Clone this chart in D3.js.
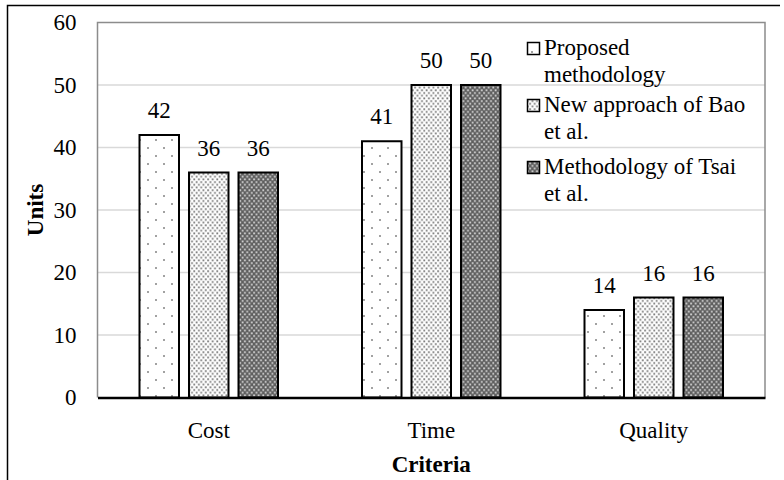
<!DOCTYPE html>
<html><head><meta charset="utf-8">
<script src="https://cdn.jsdelivr.net/npm/d3@7"></script>
<style>
html,body{margin:0;padding:0;background:#fff;}
</style></head>
<body><svg id="c" width="784" height="480"></svg>
<script>
const categories = ["Cost", "Time", "Quality"];
const seriesNames = ["Proposed methodology", "New approach of Bao et al.", "Methodology of Tsai et al."];
const proposed = [42, 41, 14];
const bao = [36, 50, 16];
const tsai = [36, 50, 16];
const yTicks = [0, 10, 20, 30, 40, 50, 60];
const legendLines = [["Proposed", "methodology"], ["New approach of Bao", "et al."], ["Methodology of Tsai", "et al."]];

const series = [proposed, bao, tsai];

// pick an installed serif font
function pickFont(){
  const cands = ["Liberation Serif","Times New Roman","Tinos","Times","DejaVu Serif","Noto Serif","FreeSerif","Nimbus Roman","Nimbus Roman No9 L","Linux Libertine O","Source Serif Pro"];
  const ctx = document.createElement("canvas").getContext("2d");
  const s = "mmmmmmmmmwwwwwlliiQuality 0123456789";
  const base = {};
  ["monospace","sans-serif"].forEach(b=>{ctx.font = "40px " + b; base[b]=ctx.measureText(s).width;});
  for (const c of cands){
    let ok = false;
    ["monospace","sans-serif"].forEach(b=>{ctx.font = `40px "${c}", ${b}`; if (Math.abs(ctx.measureText(s).width-base[b])>0.5) ok = true;});
    if (ok) return `"${c}", serif`;
  }
  return "serif";
}
const FONT = pickFont();
const FS = 23;
const svg = d3.select("#c");
const m = {left: 97.5, right: 765, top: 22.5, bottom: 397.5};

// patterns
const defs = svg.append("defs");
const p1 = defs.append("pattern").attr("id","p1").attr("patternUnits","userSpaceOnUse").attr("width",16).attr("height",16);
p1.append("rect").attr("width",16).attr("height",16).attr("fill","#fff");
[[4,4],[12,12]].forEach(([x,y])=>p1.append("rect").attr("x",x-0.8).attr("y",y-0.8).attr("width",1.6).attr("height",1.6).attr("fill","#6f6f6f"));
const p2 = defs.append("pattern").attr("id","p2").attr("patternUnits","userSpaceOnUse").attr("width",4.6).attr("height",5.4);
p2.append("rect").attr("width",4.6).attr("height",5.4).attr("fill","#fff");
p2.append("rect").attr("x",0.2).attr("y",0.3).attr("width",1.8).attr("height",1.8).attr("fill","#7a7a7a");
p2.append("rect").attr("x",2.5).attr("y",3).attr("width",1.8).attr("height",1.8).attr("fill","#7a7a7a");
const p3 = defs.append("pattern").attr("id","p3").attr("patternUnits","userSpaceOnUse").attr("width",4.6).attr("height",5.4);
p3.append("rect").attr("width",4.6).attr("height",5.4).attr("fill","#5e5e5e");
p3.append("rect").attr("x",0.2).attr("y",0.3).attr("width",1.8).attr("height",1.8).attr("fill","#d8d8d8");
p3.append("rect").attr("x",2.5).attr("y",3).attr("width",1.8).attr("height",1.8).attr("fill","#d8d8d8");
const fills = ["url(#p1)","url(#p2)","url(#p3)"];

// outer border
svg.append("path").attr("d",`M7.5,480 V5.5 H780`).attr("fill","none").attr("stroke","#000").attr("stroke-width",1.5);

const x = d3.scaleBand().domain(categories).range([m.left, m.right]).paddingInner(0).paddingOuter(0);
const y = d3.scaleLinear().domain([0, 60]).range([m.bottom, m.top]);
const barW = 39.5, step = 49.5;

// gridlines
svg.append("g").selectAll("line").data(yTicks.filter(d=>d>0 && d<60)).join("line")
  .attr("x1",m.left).attr("x2",m.right).attr("y1",d=>y(d)).attr("y2",d=>y(d))
  .attr("stroke","#d9d9d9").attr("stroke-width",1.5);

// plot border
svg.append("path").attr("d",`M${m.left},${m.bottom} V${m.top} H${m.right} V${m.bottom}`)
  .attr("fill","none").attr("stroke","#8c8c8c").attr("stroke-width",1.5);

// y axis labels
const yAxis = d3.axisLeft(y).tickValues(yTicks).tickSize(0).tickPadding(21);
const ya = svg.append("g").attr("transform",`translate(${m.left},0)`).call(yAxis);
ya.attr("font-family",FONT).attr("font-size",FS);
ya.select(".domain").remove();
ya.selectAll("text").style("font-family",FONT).attr("font-size",FS).attr("fill","#000");

// bars
const gBars = svg.append("g");
categories.forEach((c,i)=>{
  const cx = x(c) + x.bandwidth()/2;
  series.forEach((s,j)=>{
    const bx = cx + (j-1)*step - barW/2;
    gBars.append("rect").attr("x",bx).attr("y",y(s[i])).attr("width",barW).attr("height",y(0)-y(s[i]))
      .attr("fill",fills[j]).attr("stroke","#000").attr("stroke-width",2);
    gBars.append("text").attr("x",bx+barW/2).attr("y",y(s[i])-17).attr("text-anchor","middle")
      .style("font-family",FONT).attr("font-size",FS).text(s[i]);
  });
});

// x axis
const xAxis = d3.axisBottom(x).tickSize(0).tickPadding(24);
const xa = svg.append("g").attr("transform",`translate(0,${m.bottom})`).call(xAxis);
xa.attr("font-family",FONT).attr("font-size",FS);
xa.select(".domain").attr("stroke","#000").attr("stroke-width",2.5);
xa.selectAll("text").style("font-family",FONT).attr("font-size",FS).attr("fill","#000");

// axis titles
svg.append("text").attr("transform",`translate(43,${(m.top+m.bottom)/2}) rotate(-90)`)
  .attr("text-anchor","middle").style("font-family",FONT).attr("font-size",FS).attr("font-weight","bold").text("Units");
svg.append("text").attr("x",(m.left+m.right)/2).attr("y",472).attr("text-anchor","middle")
  .style("font-family",FONT).attr("font-size",FS).attr("font-weight","bold").text("Criteria");

// legend
const legBase = [55, 112, 174];
seriesNames.forEach((n,j)=>{
  const g = svg.append("g");
  g.append("rect").attr("x",527.5).attr("y",legBase[j]-12.5).attr("width",12).attr("height",12)
    .attr("fill",fills[j]).attr("stroke","#000").attr("stroke-width",1.5);
  legendLines[j].forEach((t,k)=>{
    g.append("text").attr("x",544).attr("y",legBase[j]+k*26.5).style("font-family",FONT).attr("font-size",FS).text(t);
  });
});
</script></body></html>
